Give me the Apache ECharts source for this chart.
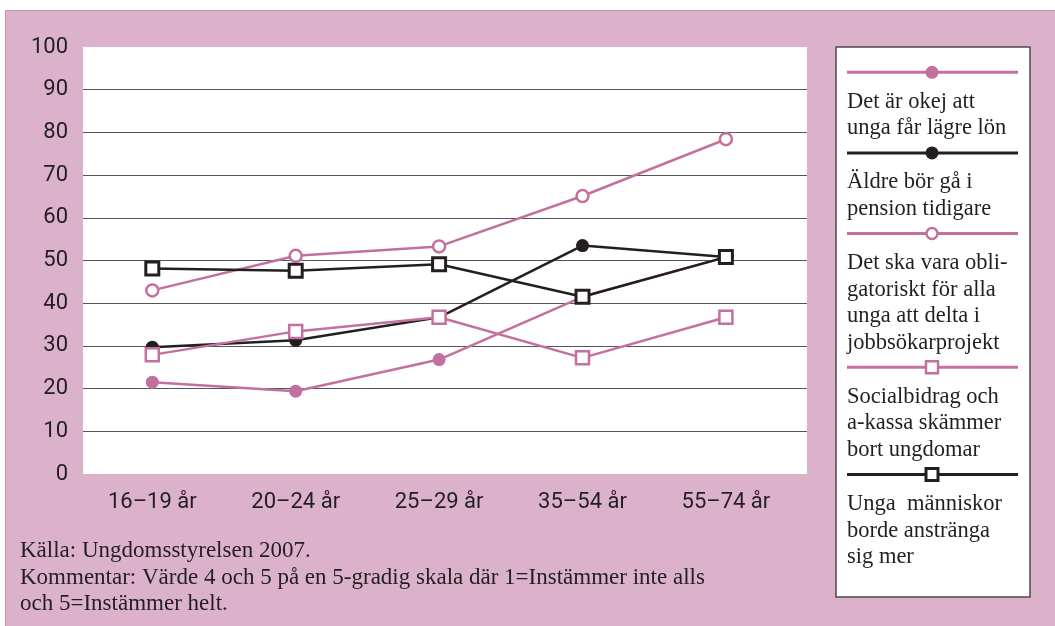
<!DOCTYPE html>
<html>
<head>
<meta charset="utf-8">
<script src="https://cdn.jsdelivr.net/npm/echarts@6/dist/echarts.min.js"></script>
<style>
html,body{margin:0;padding:0;background:#fff;}
#chart{width:1055px;height:626px;}
</style>
</head>
<body>
<div id="chart"></div>
<script>
// ---- data ----
const categories = ['16–19 år', '20–24 år', '25–29 år', '35–54 år', '55–74 år'];
const seriesNames = [
  'Det är okej att unga får lägre lön',
  'Äldre bör gå i pension tidigare',
  'Det ska vara obligatoriskt för alla unga att delta i jobbsökarprojekt',
  'Socialbidrag och a-kassa skämmer bort ungdomar',
  'Unga människor borde anstränga sig mer'
];
const legendLabels = [
  'Det är okej att\nunga får lägre lön',
  'Äldre bör gå i\npension tidigare',
  'Det ska vara obli-\ngatoriskt för alla\nunga att delta i\njobbsökarprojekt',
  'Socialbidrag och\na-kassa skämmer\nbort ungdomar',
  'Unga  människor\nborde anstränga\nsig mer'
];
const okejLagreLon     = [21.5, 19.4, 26.8, 41.5, 50.8];
const aldrePension     = [29.7, 31.3, 36.7, 53.5, 50.8];
const obligatoriskt    = [43.0, 51.1, 53.3, 65.1, 78.4];
const socialbidrag     = [27.9, 33.4, 36.7, 27.2, 36.7];
const anstrangaSig     = [48.1, 47.6, 49.1, 41.5, 50.8];
const yTicks = { min: 0, max: 100, interval: 10 };
const sourceLines = [
  'Källa: Ungdomsstyrelsen 2007.',
  'Kommentar: Värde 4 och 5 på en 5-gradig skala där 1=Instämmer inte alls',
  'och 5=Instämmer helt.'
];

// ---- styles ----
const PINK = '#c4709f';
const BLACK = '#231f20';
const BG = '#dbb2ca';
const seriesData = [okejLagreLon, aldrePension, obligatoriskt, socialbidrag, anstrangaSig];
const seriesStyle = [
  { color: PINK,  symbol: 'circle', fill: PINK,  bw: 0,   size: 13 },
  { color: BLACK, symbol: 'circle', fill: BLACK, bw: 0,   size: 13 },
  { color: PINK,  symbol: 'circle', fill: '#fff', bw: 2.5, size: 12 },
  { color: PINK,  symbol: 'rect',   fill: '#fff', bw: 2.5, size: 13 },
  { color: BLACK, symbol: 'rect',   fill: '#fff', bw: 3,   size: 13 }
];

const chart = echarts.init(document.getElementById('chart'), null, { renderer: 'canvas' });

// plot box
const PL = 83, PT = 47, PR = 807, PB = 474;
// category positions
const CAT0 = 152.3, CSTEP = 143.4;

const graphics = [];
// pink background panel
graphics.push({ type: 'rect', z: -100, shape: { x: 5.5, y: 10.5, width: 1060, height: 630 },
  style: { fill: BG, stroke: '#c98cb0', lineWidth: 1 } });
// legend box
const LX = 836, LY = 47, LW = 194, LH = 550;
graphics.push({ type: 'rect', z: 50, shape: { x: LX, y: LY, width: LW, height: LH },
  style: { fill: '#fff', stroke: '#4a4a4a', lineWidth: 1.5 } });
let y = 72.3;
const LINE_H = 26.6;
seriesStyle.forEach((s, i) => {
  graphics.push({ type: 'line', z: 51, shape: { x1: 847, y1: y, x2: 1018, y2: y },
    style: { stroke: s.color, lineWidth: 3 } });
  if (s.symbol === 'circle') {
    graphics.push({ type: 'circle', z: 52, shape: { cx: 932, cy: y, r: s.bw ? 5.5 : 6.5 },
      style: { fill: s.fill, stroke: s.color, lineWidth: s.bw } });
  } else {
    graphics.push({ type: 'rect', z: 52, shape: { x: 932 - 6, y: y - 6, width: 12, height: 12 },
      style: { fill: s.fill, stroke: s.color, lineWidth: s.bw } });
  }
  const nLines = legendLabels[i].split('\n').length;
  graphics.push({ type: 'text', z: 52, x: 847, y: y + 29.5 - LINE_H / 2,
    style: { text: legendLabels[i], fill: BLACK, font: '22.5px "Liberation Serif"',
      lineHeight: LINE_H, verticalAlign: 'top', align: 'left' } });
  y = y + 28.5 + (nLines - 1) * LINE_H + 25.5;
});
// source notes
graphics.push({ type: 'text', z: 5, x: 20, y: 551 - 13.25,
  style: { text: sourceLines.join('\n'), fill: BLACK, font: '23px "Liberation Serif"',
    lineHeight: 26.5, verticalAlign: 'top', align: 'left' } });

const labelFont = { fontFamily: 'Roboto, sans-serif', fontSize: 22, color: BLACK };

chart.setOption({
  animation: false,
  backgroundColor: '#fff',
  graphic: { elements: graphics },
  grid: [
    { left: PL, top: PT, width: PR - PL, height: PB - PT, show: true, backgroundColor: '#fff', borderWidth: 0 },
    { left: CAT0 - CSTEP / 2, top: PT, width: CSTEP * categories.length, height: PB - PT }
  ],
  xAxis: [
    { gridIndex: 0, type: 'category', data: categories, show: false },
    { gridIndex: 1, type: 'category', data: categories, boundaryGap: true,
      axisLine: { show: false }, axisTick: { show: false },
      axisLabel: Object.assign({ margin: 17 }, labelFont) }
  ],
  yAxis: [
    { gridIndex: 0, type: 'value', min: yTicks.min, max: yTicks.max, interval: yTicks.interval,
      axisLine: { show: false }, axisTick: { show: false },
      axisLabel: Object.assign({ margin: 15 }, labelFont),
      splitLine: { show: true, showMinLine: false, showMaxLine: false, lineStyle: { color: '#555', width: 1 } } },
    { gridIndex: 1, type: 'value', min: yTicks.min, max: yTicks.max, interval: yTicks.interval, show: false,
      splitLine: { show: false } }
  ],
  series: seriesData.map((d, i) => ({
    name: seriesNames[i],
    type: 'line',
    xAxisIndex: 1, yAxisIndex: 1,
    data: d,
    z: 3 + i,
    symbol: seriesStyle[i].symbol,
    symbolSize: seriesStyle[i].size,
    showAllSymbol: true,
    lineStyle: { color: seriesStyle[i].color, width: 2.5 },
    itemStyle: { color: seriesStyle[i].fill, borderColor: seriesStyle[i].color, borderWidth: seriesStyle[i].bw, opacity: 1 },
    emphasis: { disabled: true }
  }))
});
</script>
</body>
</html>
